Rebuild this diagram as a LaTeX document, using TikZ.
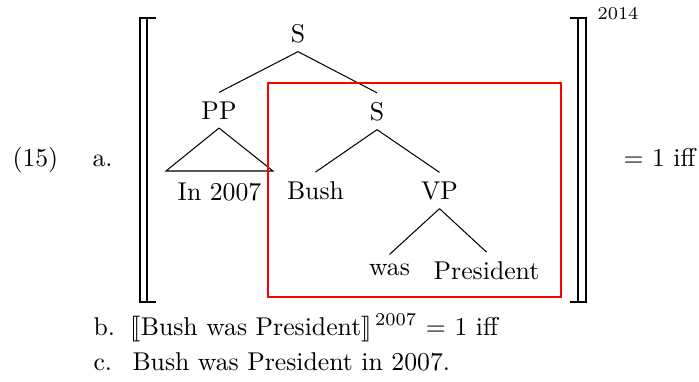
\documentclass[tikz,border=0pt]{standalone}
\usepackage{stmaryrd}
\begin{document}
\begin{tikzpicture}[x=0.389pt,y=-0.389pt,
  lbl/.style={inner sep=3.33pt, anchor=base},
  plain/.style={anchor=base west, inner sep=0pt},
  branch/.style={line width=0.4pt},
  brk/.style={line width=0.5pt},
  focus/.style={draw=red, line width=0.45pt}]
\useasboundingbox (0,0) rectangle (699,381);

% example number and item label
\node[plain] (num) at (12,166) {(15)};
\node[plain] (itema) at (92,166) {a.};

% semantic-value brackets around the tree
\draw[brk] (156,18) -- (140,18) -- (140,302) -- (156,302);
\draw[brk] (147,18) -- (147,302);
\draw[brk] (570,18) -- (586,18) -- (586,302) -- (570,302);
\draw[brk] (578,18) -- (578,302);
\node[plain, font=\scriptsize] (time) at (597,19) {2014};
\node[plain] (valA) at (623,166) {= 1 iff};

% the tree
\node[lbl] (S) at (298,42) {S};
\node[lbl] (PP) at (219,119) {PP};
\node[lbl] (in) at (219.5,200) {In 2007};
\node[lbl] (S2) at (377,120) {S};
\node[lbl] (bush) at (315.5,199) {Bush};
\node[lbl] (VP) at (439.5,199) {VP};
\node[lbl] (was) at (389.5,275) {was};
\node[lbl] (pres) at (486.5,279) {President};

\draw[branch] (S.south) -- (PP.north);
\draw[branch] (S.south) -- (S2.north);
\coordinate (triL) at (166,171);
\coordinate (triR) at (273,171);
\draw[branch] (PP.south) -- (triL) -- (triR) -- cycle;
\draw[branch] (S2.south) -- (bush.north);
\draw[branch] (S2.south) -- (VP.north);
\draw[branch] (VP.south) -- (was.north);
\draw[branch] (VP.south) -- (pres.north);

% highlighted constituent
\draw[focus] (268,83) rectangle (561,297);

% items b and c
\node[plain] (itemb) at (93,335) {b.};
\node[plain] (lineb) at (130,335) {$\llbracket$Bush was President$\rrbracket^{\,2007}$ = 1 iff};
\node[plain] (itemc) at (93,370) {c.};
\node[plain] (linec) at (132,370) {Bush was President in 2007.};
\end{tikzpicture}
\end{document}
